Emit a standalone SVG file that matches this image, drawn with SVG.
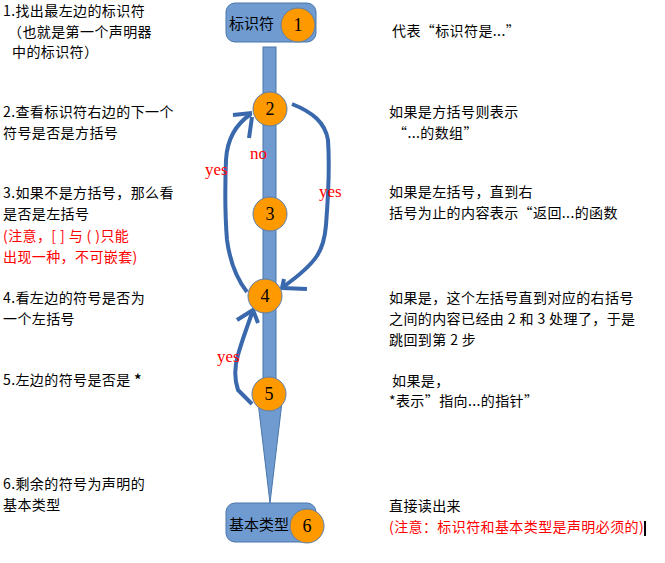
<svg xmlns="http://www.w3.org/2000/svg" width="665" height="563" viewBox="0 0 665 563">
<style>
.t{font-family:"Noto Sans CJK SC","Liberation Sans",sans-serif;font-size:14px;fill:#000;letter-spacing:0.4px}
.r{fill:#ff0000}
.lbl{font-family:"Liberation Serif","Times New Roman",serif;font-size:17px;fill:#ff0000}
.num{font-family:"Liberation Serif","Times New Roman",serif;font-size:18px;fill:#000;text-anchor:middle}
.box{fill:#6f9bd0;stroke:#4a76ab;stroke-width:1}
.circ{fill:#ff9900;stroke:#5a7fae;stroke-width:1}
.cv{fill:none;stroke:#3a68ad;stroke-width:4;stroke-linecap:butt;stroke-linejoin:round}
.bl{font-family:"Noto Sans CJK SC","Liberation Sans",sans-serif;font-size:15px;fill:#000}
</style>
<rect width="665" height="563" fill="#fff"/>
<g id="spine">
<rect class="box" x="263" y="47" width="13" height="350"/>
<polygon class="box" points="258,402 282,402 270,503"/>
</g>
<g id="connectors">
<path class="cv" d="M247,292 C236,278 230,262 227,240 C225,215 225,185 226,160 C227,140 236,124 251,114"/>
<path class="cv" d="M233,115 L252,113 M249,138 L252,117"/>
<path class="cv" d="M292,104 C312,112 325,122 328,140 C330,170 328,200 326,225 C324,250 318,262 283,287"/>
<path class="cv" d="M284,279 L282,288 L307,289"/>
<path class="cv" d="M252,404 L238,390 C234,378 235,365 238,355 C242,340 248,325 253,310"/>
<path class="cv" d="M237,320 L253,310 L258,323"/>
</g>
<g id="node1">
<rect class="box" x="226" y="3" width="90" height="39" rx="9"/>
<text class="bl" x="229" y="29">标识符</text>
<circle class="circ" cx="298" cy="25" r="17"/>
<text class="num" x="298" y="31">1</text>
</g>
<g id="node2">
<circle class="circ" cx="270" cy="109" r="17"/>
<text class="num" x="270" y="115">2</text>
</g>
<g id="node3">
<circle class="circ" cx="270" cy="214" r="17"/>
<text class="num" x="270" y="220">3</text>
</g>
<g id="node4">
<circle class="circ" cx="265" cy="296" r="17"/>
<text class="num" x="265" y="302">4</text>
</g>
<g id="node5">
<circle class="circ" cx="269" cy="394" r="17"/>
<text class="num" x="269" y="400">5</text>
</g>
<g id="node6">
<rect class="box" x="226" y="503" width="90" height="39" rx="9"/>
<text class="bl" x="229" y="530">基本类型</text>
<circle class="circ" cx="307" cy="526" r="17"/>
<text class="num" x="307" y="532">6</text>
</g>
<g id="edge-labels">
<text class="lbl" x="250" y="159">no</text>
<text class="lbl" x="205" y="175">yes</text>
<text class="lbl" x="319" y="197">yes</text>
<text class="lbl" x="217" y="362">yes</text>
</g>
<g id="left-text">
<text class="t" x="3" y="16">1.找出最左边的标识符</text>
<text class="t" x="8" y="37">（也就是第一个声明器</text>
<text class="t" x="12" y="57">中的标识符）</text>
<text class="t" x="3" y="117">2.查看标识符右边的下一个</text>
<text class="t" x="3" y="138">符号是否是方括号</text>
<text class="t" x="3" y="198">3.如果不是方括号，那么看</text>
<text class="t" x="3" y="219">是否是左括号</text>
<text class="t r" x="3" y="241">(注意，[ ] 与 ( )只能</text>
<text class="t r" x="3" y="262">出现一种，不可嵌套)</text>
<text class="t" x="3" y="303">4.看左边的符号是否为</text>
<text class="t" x="3" y="324">一个左括号</text>
<text class="t" x="3" y="385">5.左边的符号是否是 <tspan font-weight="bold">*</tspan></text>
<text class="t" x="3" y="489">6.剩余的符号为声明的</text>
<text class="t" x="3" y="510">基本类型</text>
</g>
<g id="right-text">
<text class="t" x="392" y="36">代表“标识符是...”</text>
<text class="t" x="389" y="117">如果是方括号则表示</text>
<text class="t" x="393" y="138">“...的数组”</text>
<text class="t" x="389" y="197">如果是左括号，直到右</text>
<text class="t" x="389" y="218">括号为止的内容表示“返回...的函数</text>
<text class="t" x="389" y="303">如果是，这个左括号直到对应的右括号</text>
<text class="t" x="389" y="324">之间的内容已经由 2 和 3 处理了，于是</text>
<text class="t" x="389" y="345">跳回到第 2 步</text>
<text class="t" x="392" y="386">如果是，</text>
<text class="t" x="389" y="406">*表示”指向...的指针”</text>
<text class="t" x="389" y="511">直接读出来</text>
<text class="t r" x="389" y="532">(注意：标识符和基本类型是声明必须的)</text>
<rect x="644" y="521" width="2" height="15" fill="#000"/>
</g>
</svg>
